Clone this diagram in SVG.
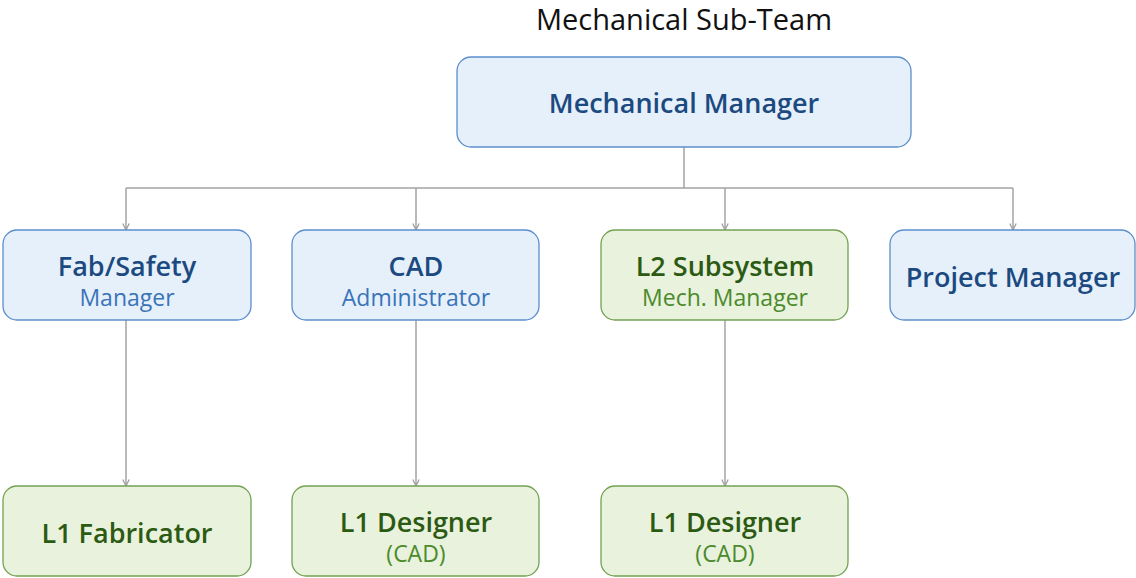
<svg xmlns="http://www.w3.org/2000/svg" width="1136" height="578" viewBox="0 0 1136 578">
<defs>
<marker id="arr" viewBox="0 0 10 10" refX="9" refY="5" markerWidth="8" markerHeight="8" markerUnits="userSpaceOnUse" orient="auto">
<path d="M1,1 L9,5 L1,9" fill="none" stroke="#999" stroke-width="1.5"/>
</marker>
<style>
.blue rect{fill:#e5f0fb;stroke:#5b8ecb;stroke-width:1.3}
.green rect{fill:#e8f2dd;stroke:#74a152;stroke-width:1.3}
text{font-family:"Open Sans","Noto Sans",sans-serif;text-anchor:middle}
.blue .t{fill:#1c4a80;font-weight:600;font-size:27px}
.blue .s{fill:#3a74b8;font-size:23px}
.green .t{fill:#2d5a13;font-weight:600;font-size:27px}
.green .s{fill:#4c8a2b;font-size:23px}
.c{fill:none;stroke:#a3a3a3;stroke-width:1.5}
</style>
</defs>
<rect width="1136" height="578" fill="#ffffff"/>
<text x="684" y="30" style="font-size:29px;fill:#111">Mechanical Sub-Team</text>
<g id="connectors" class="c">
<path d="M684,147 V188"/>
<path d="M126,188 H1013"/>
<path d="M126,188 V230" marker-end="url(#arr)"/>
<path d="M416,188 V230" marker-end="url(#arr)"/>
<path d="M725,188 V230" marker-end="url(#arr)"/>
<path d="M1013,188 V230" marker-end="url(#arr)"/>
<path d="M126,320 V486" marker-end="url(#arr)"/>
<path d="M416,320 V486" marker-end="url(#arr)"/>
<path d="M725,320 V486" marker-end="url(#arr)"/>
</g>
<g id="mech-manager" class="blue">
<rect x="457" y="57" width="454" height="90" rx="14"/>
<text class="t" x="684" y="113">Mechanical Manager</text>
</g>
<g id="fab-safety" class="blue">
<rect x="3" y="230" width="248" height="90" rx="14"/>
<text class="t" x="127" y="276">Fab/Safety</text>
<text class="s" x="127" y="306">Manager</text>
</g>
<g id="cad-admin" class="blue">
<rect x="292" y="230" width="247" height="90" rx="14"/>
<text class="t" x="416" y="276">CAD</text>
<text class="s" x="416" y="306">Administrator</text>
</g>
<g id="l2-subsystem" class="green">
<rect x="601" y="230" width="247" height="90" rx="14"/>
<text class="t" x="725" y="276">L2 Subsystem</text>
<text class="s" x="725" y="306">Mech. Manager</text>
</g>
<g id="project-manager" class="blue">
<rect x="890" y="230" width="245" height="90" rx="14"/>
<text class="t" x="1013" y="287">Project Manager</text>
</g>
<g id="l1-fabricator" class="green">
<rect x="3" y="486" width="248" height="90" rx="14"/>
<text class="t" x="127" y="543">L1 Fabricator</text>
</g>
<g id="l1-designer-1" class="green">
<rect x="292" y="486" width="247" height="90" rx="14"/>
<text class="t" x="416" y="532">L1 Designer</text>
<text class="s" x="416" y="562">(CAD)</text>
</g>
<g id="l1-designer-2" class="green">
<rect x="601" y="486" width="247" height="90" rx="14"/>
<text class="t" x="725" y="532">L1 Designer</text>
<text class="s" x="725" y="562">(CAD)</text>
</g>
</svg>
